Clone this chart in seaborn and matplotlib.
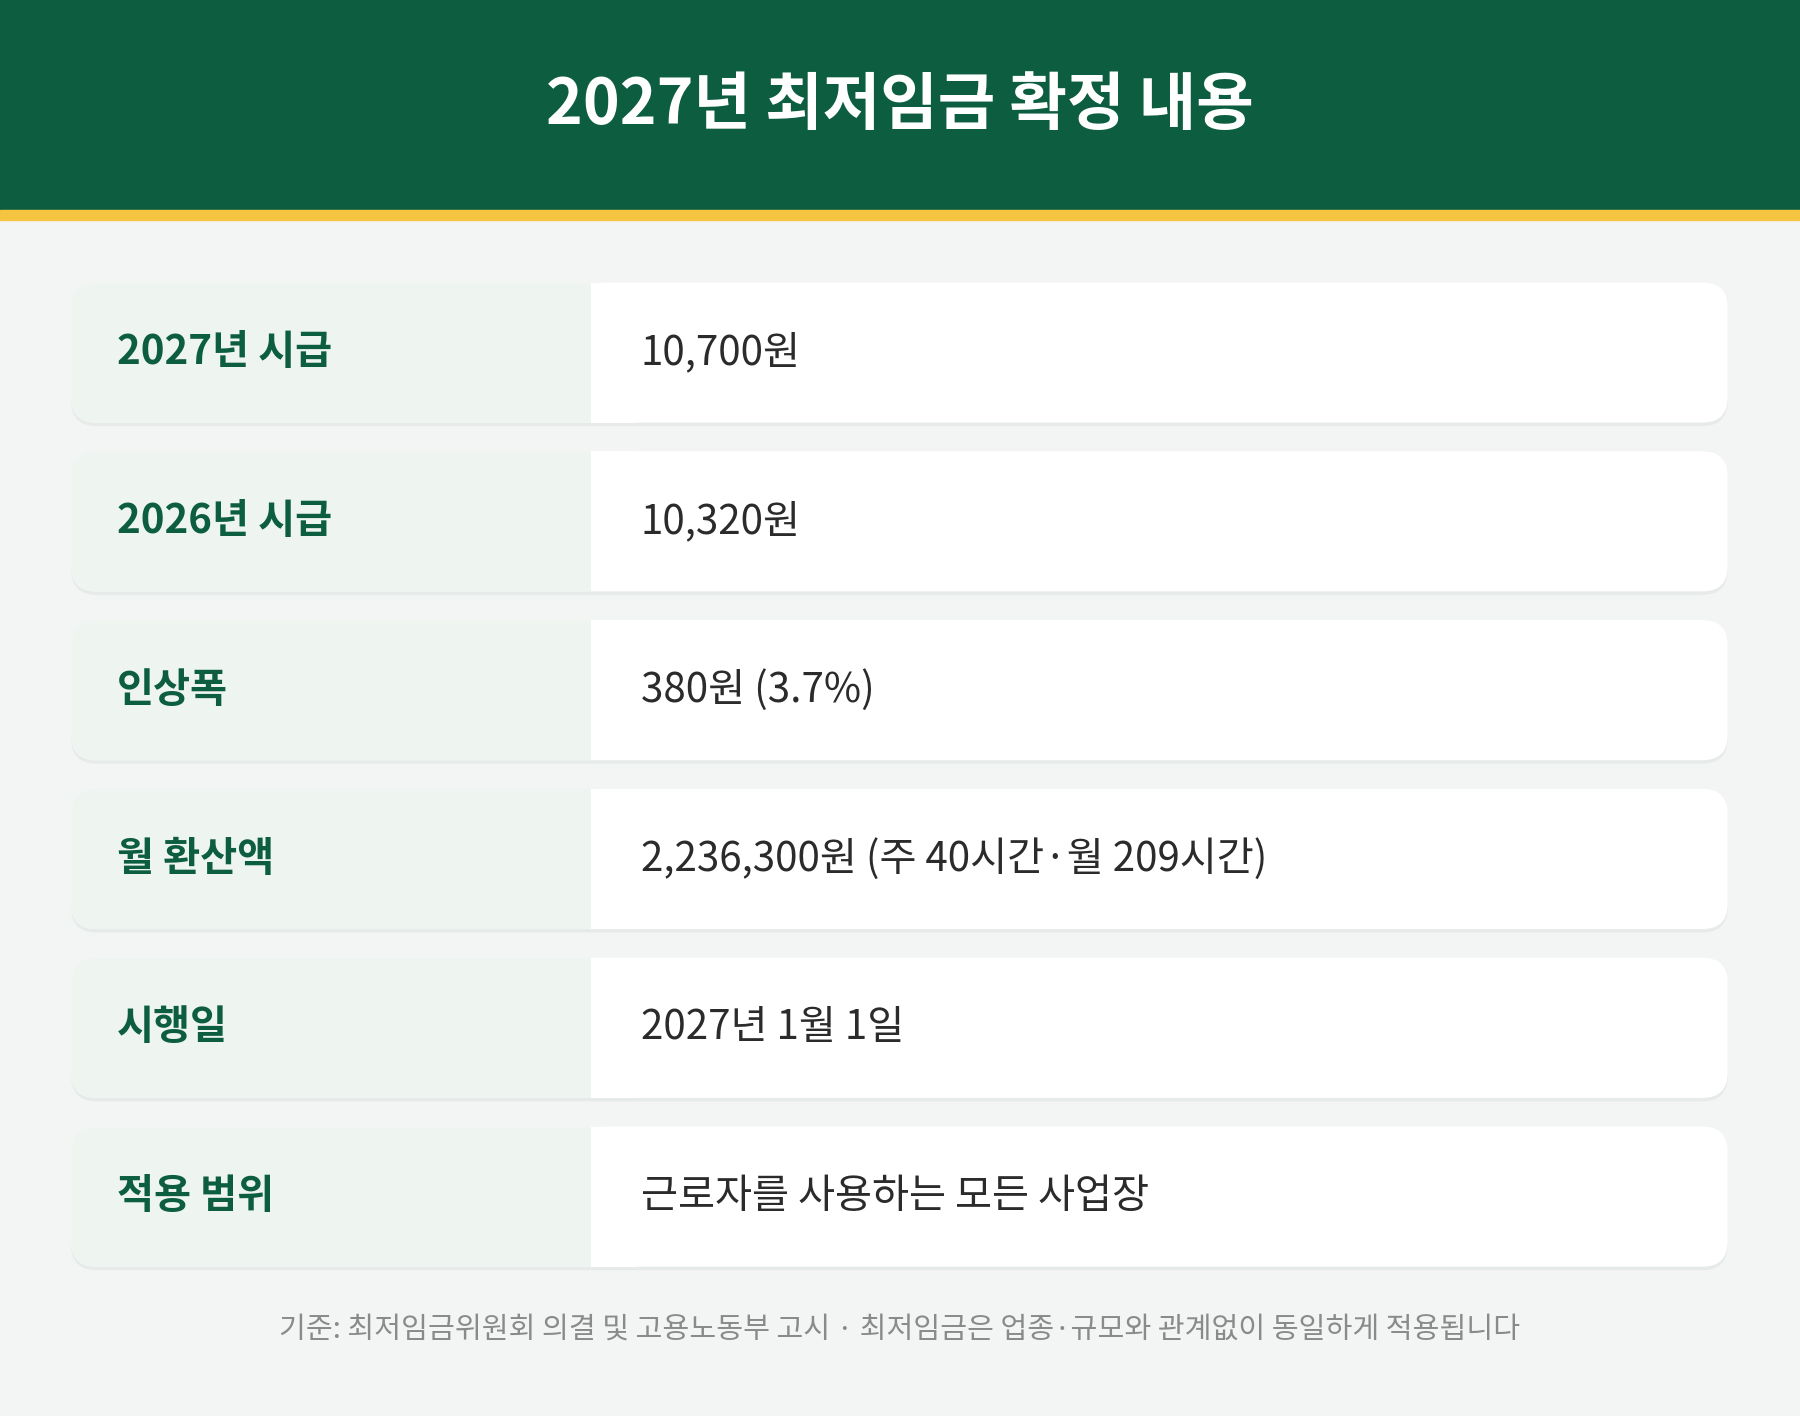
import matplotlib
matplotlib.use("Agg")
import matplotlib.pyplot as plt
import seaborn as sns
from matplotlib.patches import FancyBboxPatch, Rectangle

sns.set_theme(style="white")
plt.rcParams['font.family'] = ['Noto Sans CJK KR', 'DejaVu Sans']

title = "2027년 최저임금 확정 내용"
labels = ["2027년 시급", "2026년 시급", "인상폭", "월 환산액", "시행일", "적용 범위"]
values = ["10,700원", "10,320원", "380원 (3.7%)", "2,236,300원 (주 40시간·월 209시간)",
          "2027년 1월 1일", "근로자를 사용하는 모든 사업장"]
footer = "기준: 최저임금위원회 의결 및 고용노동부 고시 · 최저임금은 업종·규모와 관계없이 동일하게 적용됩니다"

W, H = 1568, 1233
fig = plt.figure(figsize=(18, 14.16), dpi=100)
ax = fig.add_axes([0, 0, 1, 1])
ax.set_xlim(0, W); ax.set_ylim(H, 0); ax.axis("off")
fig.patch.set_facecolor("#f3f5f4")

green = "#0d5e40"
ax.add_patch(Rectangle((0, 0), W, 184, color=green, zorder=1))
ax.add_patch(Rectangle((0, 183), W, 9, color="#f5c542", zorder=1))
ax.text(W / 2, 92, title, color="white", fontsize=45, fontweight="bold", ha="center", va="center")

x0, x1, xs = 62, 1505, 515
top, rh, gap = 246, 122, 25
for i, (lab, val) in enumerate(zip(labels, values)):
    y = top + i * (rh + gap)
    # shadow
    ax.add_patch(FancyBboxPatch((x0, y + 3), x1 - x0, rh, boxstyle="round,pad=0,rounding_size=22",
                                fc="#e6eae8", ec="none", zorder=1))
    ax.add_patch(FancyBboxPatch((x0, y), x1 - x0, rh, boxstyle="round,pad=0,rounding_size=22",
                                fc="white", ec="none", zorder=2))
    ax.add_patch(FancyBboxPatch((x0, y), xs - x0 + 30, rh, boxstyle="round,pad=0,rounding_size=22",
                                fc="#eef4f0", ec="none", zorder=3))
    ax.add_patch(Rectangle((xs, y), 40, rh, fc="white", ec="none", zorder=4))
    ax.text(102, y + rh / 2, lab, color=green, fontsize=29, fontweight="bold", ha="left", va="center", zorder=5)
    ax.text(558, y + rh / 2, val, color="#2b2b2b", fontsize=29, ha="left", va="center", zorder=5)

ax.text(W / 2 + 0, 1158, footer, color="#8a8a8a", fontsize=21, ha="center", va="center")
fig.savefig("out.png", dpi=100, facecolor=fig.get_facecolor())
